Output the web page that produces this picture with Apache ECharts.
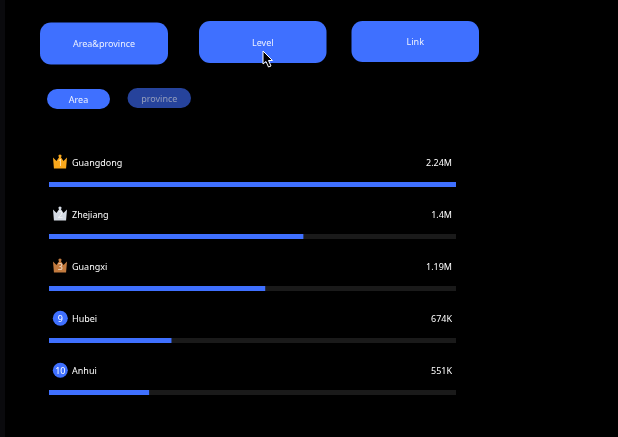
<!DOCTYPE html>
<html>
<head>
<meta charset="utf-8">
<style>html,body{margin:0;padding:0;background:#000}#chart{width:618px;height:437px}</style>
<script src="https://cdn.jsdelivr.net/npm/echarts@6/dist/echarts.min.js"></script>
</head>
<body>
<div id="chart"></div>
<script>
// Ranking data
const provinces = ['Guangdong', 'Zhejiang', 'Guangxi', 'Hubei', 'Anhui'];
const amounts = [2240000, 1400000, 1190000, 674000, 551000];
const amountLabels = ['2.24M', '1.4M', '1.19M', '674K', '551K'];
const ranks = [1, 2, 3, 9, 10];

// Filter controls
const groupButtons = ['Area&province', 'Level', 'Link'];
const scopePills = ['Area', 'province'];

const FONT = '"Noto Sans", sans-serif';
const BLUE = '#3f70ff';
const CROWN_COLORS = { 1: '#f9a81c', 2: '#d5dbe4', 3: '#c27a3e' };
const CROWN_PATH = 'M1 3.2 L4 6.2 L6.2 2.8 L5.6 1.8 A1 1 0 1 1 8.4 1.8 L7.8 2.8 L10 6.2 L13 3.2 L12.2 13 L1.8 13 Z';

function panel(x, y, w, h, r, fill, label, color) {
  return {
    type: 'rect',
    shape: { x, y, width: w, height: h, r },
    style: { fill },
    silent: true,
    textContent: {
      style: { text: label, fill: color, font: '9px ' + FONT, align: 'center', verticalAlign: 'middle' }
    },
    textConfig: { position: 'inside', offset: [0, 1] }
  };
}

const chart = echarts.init(document.getElementById('chart'), null, { renderer: 'canvas' });
chart.setOption({
  backgroundColor: '#000',
  animation: false,
  grid: { left: 49, top: 158.5, width: 407, height: 260, containLabel: false },
  xAxis: { type: 'value', min: 0, max: amounts[0], show: false },
  yAxis: { type: 'category', data: provinces, inverse: true, show: false },
  series: [
    {
      type: 'bar',
      data: amounts,
      barWidth: 5,
      itemStyle: { color: BLUE },
      showBackground: true,
      backgroundStyle: { color: '#1a1a1a' }
    },
    {
      // Row header above each bar: rank badge, name and amount
      type: 'custom',
      data: provinces.map((_, i) => [0, i]),
      encode: { x: 0, y: 1 },
      clip: false,
      silent: true,
      renderItem(params, api) {
        const i = api.value(1);
        const start = api.coord([0, i]);
        const end = api.coord([amounts[0], i]);
        const rank = ranks[i];
        const cx = start[0] + 11;
        const cy = start[1] - 23;
        const badge = CROWN_COLORS[rank]
          ? {
              type: 'path',
              shape: { pathData: CROWN_PATH, x: cx - 7, y: cy - 7, width: 14, height: 14, layout: 'cover' },
              style: { fill: CROWN_COLORS[rank] }
            }
          : { type: 'circle', shape: { cx: cx + 0.3, cy: cy + 0.8, r: 7.5 }, style: { fill: BLUE } };
        return {
          type: 'group',
          children: [
            badge,
            {
              type: 'text',
              style: {
                x: cx + 0.3, y: cy + 1.5, text: String(rank), fill: CROWN_COLORS[rank] ? 'rgba(255,255,255,0.75)' : '#fff',
                font: '9px ' + FONT, align: 'center', verticalAlign: 'middle'
              }
            },
            {
              type: 'text',
              style: {
                x: start[0] + 23, y: cy + 1.5, text: provinces[i], fill: '#fff',
                font: '9px ' + FONT, align: 'left', verticalAlign: 'middle'
              }
            },
            {
              type: 'text',
              style: {
                x: end[0] - 4, y: cy + 1.5, text: amountLabels[i], fill: '#fff',
                font: '9px ' + FONT, align: 'right', verticalAlign: 'middle'
              }
            }
          ]
        };
      }
    }
  ],
  graphic: [
    { type: 'rect', shape: { x: 0, y: 0, width: 5, height: 437 }, style: { fill: '#0a0a0d' }, silent: true },
    panel(40, 22.5, 128, 42, 11, BLUE, groupButtons[0], '#eef2ff'),
    panel(199, 21, 127.5, 42, 11, BLUE, groupButtons[1], '#eef2ff'),
    panel(351.5, 21, 127.5, 41, 11, BLUE, groupButtons[2], '#eef2ff'),
    panel(47, 89, 63, 20, 10, BLUE, scopePills[0], '#eef2ff'),
    panel(127.5, 88, 63.5, 20, 10, '#26439c', scopePills[1], '#939dbc'),
    {
      // Mouse pointer resting on the Level button
      type: 'polygon',
      silent: true,
      z: 10,
      shape: { points: [[263, 51], [263, 64], [266, 61.5], [268.5, 67], [271, 66], [268.5, 60.5], [272.5, 60.5]] },
      style: { fill: '#000', stroke: '#fff', lineWidth: 1 }
    }
  ]
});
</script>
</body>
</html>
